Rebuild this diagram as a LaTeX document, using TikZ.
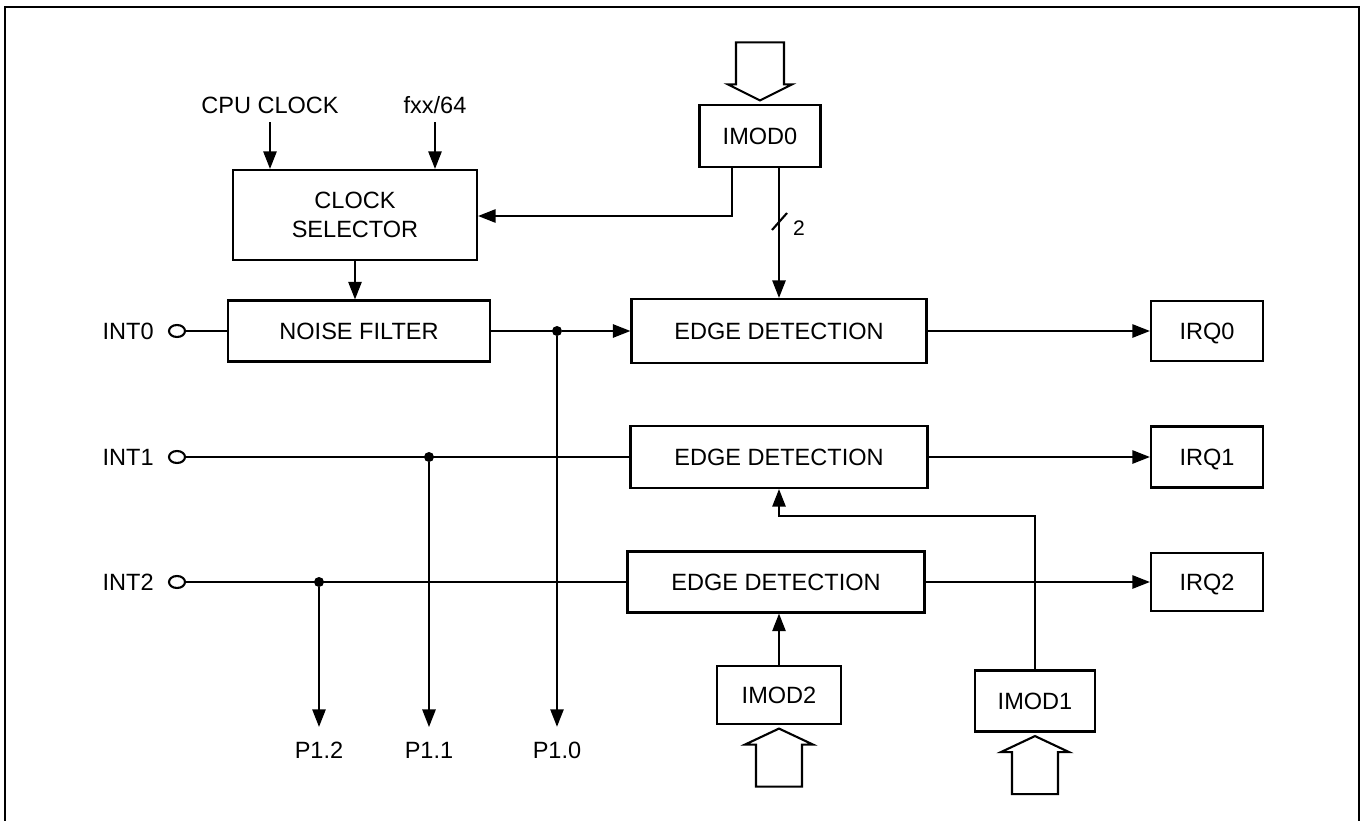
\documentclass[tikz,border=0pt]{standalone}
\usepackage{fontspec}
\setmainfont{Liberation Sans}
\usetikzlibrary{positioning,calc,arrows.meta,shapes.geometric}

\begin{document}
\begin{tikzpicture}[
    x=0.02cm, y=-0.02cm,
    every node/.style={font=\fontsize{13.4}{16.4}\selectfont},
    blk/.style={draw, line width=1.2pt, align=center, inner sep=0pt},
    arr/.style={-{Triangle[length=10pt,width=7.5pt]}, line width=1.2pt},
    wire/.style={line width=1.2pt},
    pinc/.style={draw, ellipse, line width=1.2pt, minimum width=0.32cm, minimum height=0.24cm, inner sep=0pt},
    dot/.style={circle, fill, inner sep=0pt, minimum size=0.2cm},
    hollow/.style={draw, line width=1.2pt, line join=miter},
    src/.style={inner xsep=0pt, inner ysep=0.17cm},
    dst/.style={inner xsep=0pt, inner ysep=0.29cm}
]
\useasboundingbox (0,0) rectangle (1366,821);

% outer frame (open at the bottom)
\draw[line width=1.2pt] (5,823) -- (5,7) -- (1359,7) -- (1359,823);

% clock inputs
\node[src] (cpu) at (270,105) {CPU CLOCK};
\node[src] (fxx) at (435,105) {fxx/64};
\node[blk, minimum width=4.88cm, minimum height=1.8cm] (clksel) at (355,215) {CLOCK\\SELECTOR};

% mode registers
\node[blk, minimum width=2.42cm, minimum height=1.24cm] (imod0) at (760,136) {IMOD0};
\node[blk, minimum width=2.48cm, minimum height=1.16cm] (imod2) at (779,695) {IMOD2};
\node[blk, minimum width=2.4cm, minimum height=1.22cm] (imod1) at (1035,701) {IMOD1};

% external pins
\node[pinc] (int0) at (177,331) {};
\node[pinc] (int1) at (177,457) {};
\node[pinc] (int2) at (177,582) {};
\node[inner sep=0pt, left=0.28cm of int0] (int0t) {INT0};
\node[inner sep=0pt, left=0.28cm of int1] (int1t) {INT1};
\node[inner sep=0pt, left=0.28cm of int2] (int2t) {INT2};

% filter and edge detectors
\node[blk, minimum width=5.24cm, minimum height=1.22cm] (noise) at (359,331) {NOISE FILTER};
\node[blk, minimum width=5.9cm, minimum height=1.28cm] (edge0) at (779,331) {EDGE DETECTION};
\node[blk, minimum width=5.94cm, minimum height=1.24cm] (edge1) at (779,457) {EDGE DETECTION};
\node[blk, minimum width=5.94cm, minimum height=1.22cm] (edge2) at (776,582) {EDGE DETECTION};

% interrupt requests
\node[blk, text depth=0pt, minimum width=2.24cm, minimum height=1.2cm] (irq0) at (1207,331) {IRQ0};
\node[blk, text depth=0pt, minimum width=2.24cm, minimum height=1.22cm] (irq1) at (1207,457) {IRQ1};
\node[blk, text depth=0pt, minimum width=2.24cm, minimum height=1.16cm] (irq2) at (1207,582) {IRQ2};

% port outputs
\node[dst] (p12) at (319,750) {P1.2};
\node[dst] (p11) at (429,750) {P1.1};
\node[dst] (p10) at (557,750) {P1.0};

% clock path
\draw[arr] (cpu.south) -- (cpu.south |- clksel.north);
\draw[arr] (fxx.south) -- (fxx.south |- clksel.north);
\draw[arr] (clksel.south) -- (clksel.south |- noise.north);
\coordinate (bend0) at (732,216);
\draw[arr] (imod0.south -| bend0) -- (bend0) -- (clksel.east |- bend0);
\draw[arr] (imod0.south -| edge0.north) -- (edge0.north);
\draw[wire] (772,230) -- (787,213);
\node (bus) at (799,228) {\fontsize{12}{14}\selectfont 2};

% INT0 row
\draw[wire] (int0) -- (noise);
\draw[wire] (noise.east) -- (557,331);
\node[dot] (d0) at (557,331) {};
\draw[arr] (d0) -- (edge0);
\draw[arr] (d0) -- (p10);
\draw[arr] (edge0) -- (irq0);

% INT1 row
\draw[wire] (int1) -- (edge1);
\node[dot] (d1) at (429,457) {};
\draw[arr] (d1) -- (p11);
\draw[arr] (edge1) -- (irq1);

% INT2 row
\draw[wire] (int2) -- (edge2);
\node[dot] (d2) at (319,582) {};
\draw[arr] (d2) -- (p12);
\draw[arr] (edge2) -- (irq2);

% mode control of INT1 / INT2
\coordinate (bend1) at (1035,516);
\draw[arr] (imod1.north) -- (bend1) -| (edge1.south);
\draw[arr] (imod2.north) -- (imod2.north |- edge2.south);

% data bus arrows into the mode registers
\draw[hollow] ([yshift=2pt]imod0.north) -- ++(-32,-16) -- ++(8,0) -- ++(0,-42) -- ++(48,0) -- ++(0,42) -- ++(8,0) -- cycle;
\draw[hollow] ([yshift=-2pt]imod2.south) -- ++(-34,16) -- ++(11,0) -- ++(0,42) -- ++(46,0) -- ++(0,-42) -- ++(11,0) -- cycle;
\draw[hollow] ([yshift=-2pt]imod1.south) -- ++(-34,16) -- ++(11,0) -- ++(0,42) -- ++(46,0) -- ++(0,-42) -- ++(11,0) -- cycle;

\end{tikzpicture}
\end{document}
